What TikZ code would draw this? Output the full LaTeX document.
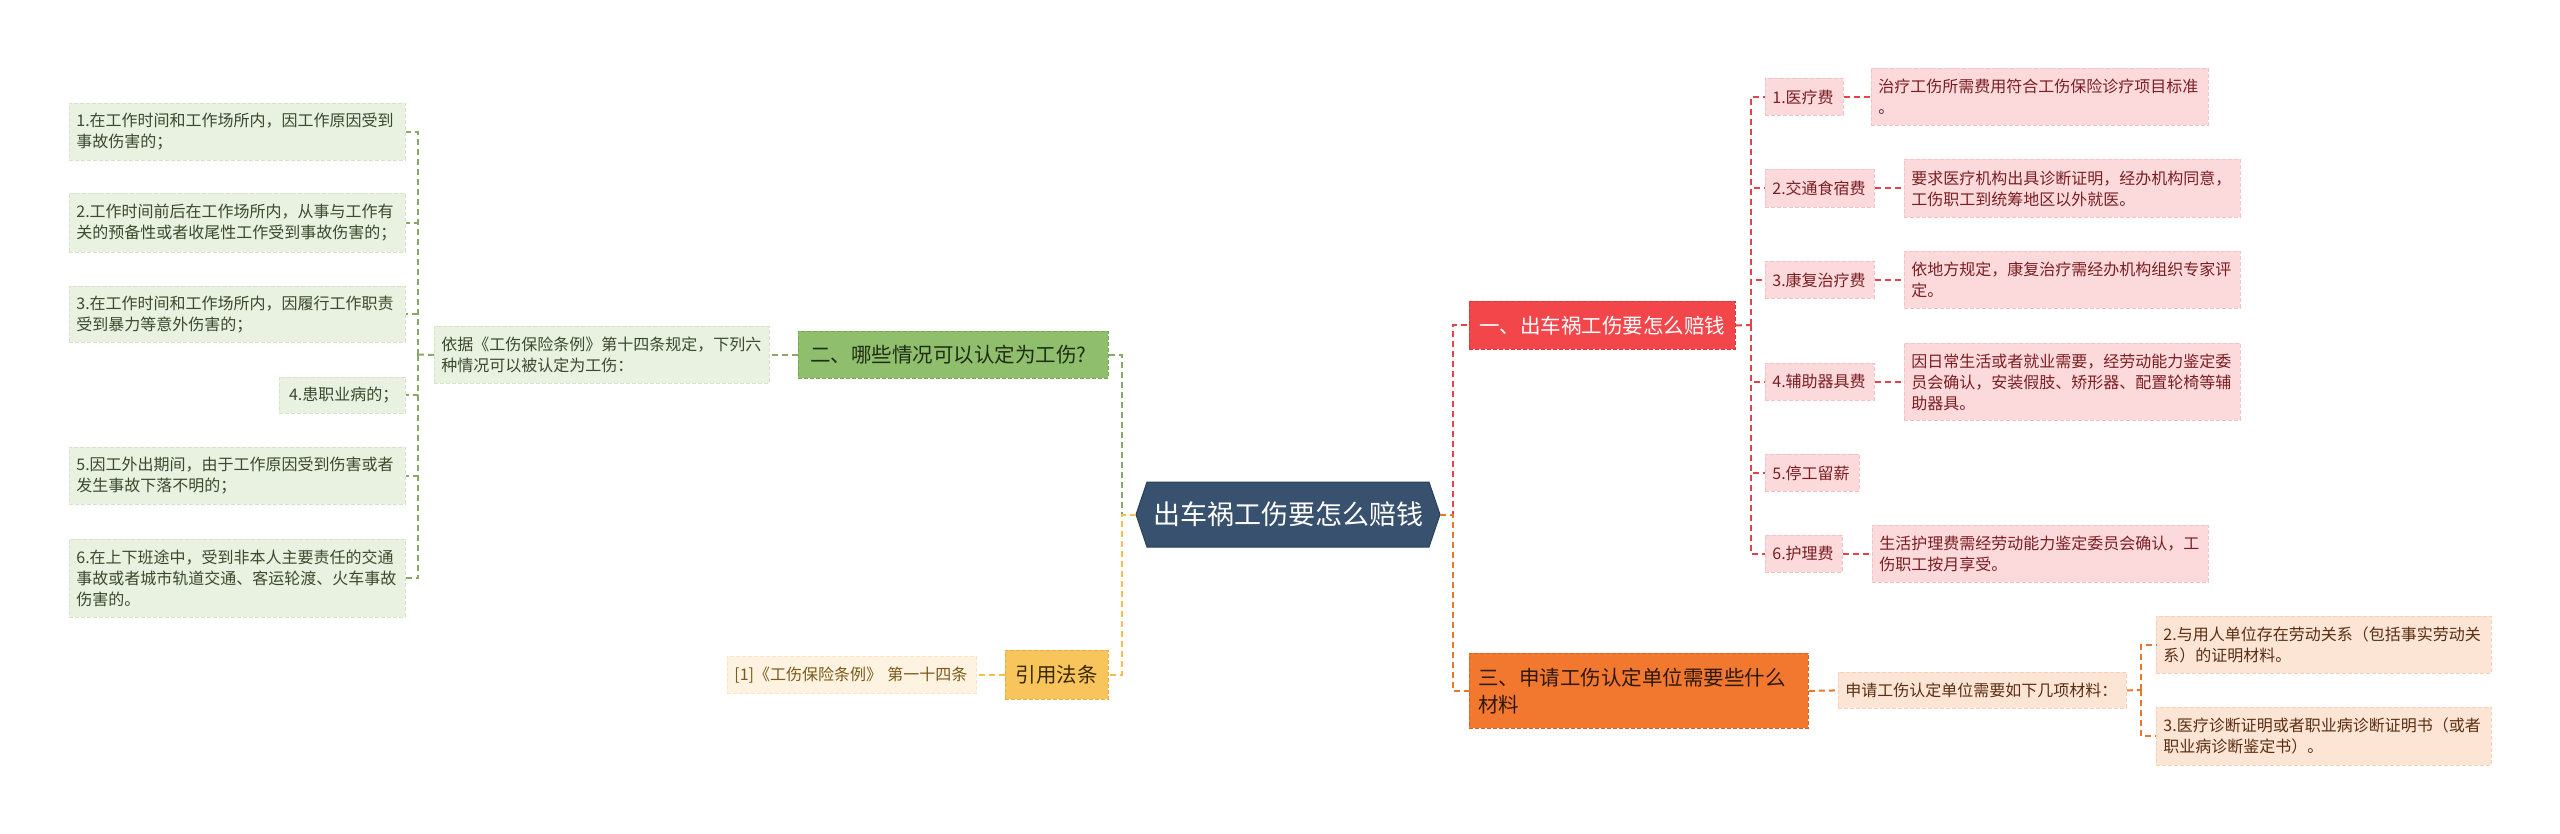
\documentclass[tikz,border=0pt]{standalone}
\usepackage{fontspec}
\setmainfont{Noto Sans CJK SC}
\usetikzlibrary{calc}
\definecolor{cFill}{HTML}{37516F}
\definecolor{cBord}{HTML}{27405A}
\definecolor{rMain}{HTML}{F2464A}
\definecolor{rMainB}{HTML}{DC3438}
\definecolor{rLeaf}{HTML}{FCDADB}
\definecolor{rLeafB}{HTML}{F4C2C4}
\definecolor{rTxt}{HTML}{7B1E22}
\definecolor{rLine}{HTML}{E0454A}
\definecolor{gMain}{HTML}{8FBE6D}
\definecolor{gMainB}{HTML}{76A556}
\definecolor{gLeaf}{HTML}{E9F1E1}
\definecolor{gLeafB}{HTML}{D5E3C8}
\definecolor{gTxt}{HTML}{3A4A2C}
\definecolor{gMTxt}{HTML}{1F2D14}
\definecolor{gLine}{HTML}{88AA66}
\definecolor{yMain}{HTML}{F8C45C}
\definecolor{yMainB}{HTML}{E8AE3E}
\definecolor{yLeaf}{HTML}{FEF3E0}
\definecolor{yLeafB}{HTML}{FAE4C2}
\definecolor{yTxt}{HTML}{7A5A1A}
\definecolor{yMTxt}{HTML}{3A2A08}
\definecolor{yLine}{HTML}{F2C050}
\definecolor{oMain}{HTML}{F2772F}
\definecolor{oMainB}{HTML}{DE6020}
\definecolor{oLeaf}{HTML}{FDE5D6}
\definecolor{oLeafB}{HTML}{F7D0BA}
\definecolor{oTxt}{HTML}{5A2E12}
\definecolor{oMTxt}{HTML}{2E1A0C}
\definecolor{oLine}{HTML}{E8782E}
\tikzset{
  bx/.style={rectangle, anchor=north west, inner xsep=7pt, inner ysep=1pt, align=left,
             dash pattern=on 4pt off 2pt, line width=0.8pt},
  small/.style={font=\fontsize{16}{21}\selectfont},
  big/.style={font=\fontsize{20.5}{27}\selectfont},
  leafG/.style={bx, small, fill=gLeaf, draw=gLeafB, text=gTxt},
  leafR/.style={bx, small, fill=rLeaf, draw=rLeafB, text=rTxt},
  leafO/.style={bx, small, fill=oLeaf, draw=oLeafB, text=oTxt},
  leafY/.style={bx, small, fill=yLeaf, draw=yLeafB, text=yTxt},
  mainG/.style={bx, big, fill=gMain, draw=gMainB, text=gMTxt, inner xsep=12pt},
  mainR/.style={bx, big, fill=rMain, draw=rMainB, text=white, inner xsep=10pt},
  mainO/.style={bx, big, fill=oMain, draw=oMainB, text=oMTxt, inner xsep=9pt},
  mainY/.style={bx, big, fill=yMain, draw=yMainB, text=yMTxt, inner xsep=10pt, align=center},
  conn/.style={line width=2pt, dash pattern=on 6pt off 4pt},
  connG/.style={conn, draw=gLine},
  connR/.style={conn, draw=rLine},
  connO/.style={conn, draw=oLine},
  connY/.style={conn, draw=yLine},
}
\begin{document}
\begin{tikzpicture}[x=1pt,y=-1pt]
\useasboundingbox (0,0) rectangle (2560,833);
\fill[white] (0,0) rectangle (2560,833);

% central node
\path[fill=cFill, draw=cBord, line width=1pt] (1136,514.5) -- (1147,482) -- (1429,482) -- (1440,514.5) -- (1429,547) -- (1147,547) -- cycle;
\node[minimum width=304pt, minimum height=65pt, inner sep=0pt, text=white, font=\fontsize{27}{32}\selectfont] (C) at (1288,514.5) {出车祸工伤要怎么赔钱};

% left branch: green
\node[mainG, text width=286pt, minimum height=47pt] (G) at (798,331) {二、哪些情况可以认定为工伤?};
\node[leafG, text width=321pt, minimum height=57pt] (I) at (434,326) {依据《工伤保险条例》第十四条规定，下列六\\种情况可以被认定为工伤：};
\node[leafG, text width=322pt, minimum height=57pt] (L1) at (69,103) {1.在工作时间和工作场所内，因工作原因受到\\事故伤害的；};
\node[leafG, text width=322pt, minimum height=59pt] (L2) at (69,193) {2.工作时间前后在工作场所内，从事与工作有\\关的预备性或者收尾性工作受到事故伤害的；};
\node[leafG, text width=322pt, minimum height=56pt] (L3) at (69,286) {3.在工作时间和工作场所内，因履行工作职责\\受到暴力等意外伤害的；};
\node[leafG, text width=112pt, minimum height=36pt, align=right] (L4) at (279,377) {4.患职业病的；};
\node[leafG, text width=322pt, minimum height=57pt] (L5) at (69,447) {5.因工外出期间，由于工作原因受到伤害或者\\发生事故下落不明的；};
\node[leafG, text width=322pt, minimum height=78pt] (L6) at (69,539) {6.在上下班途中，受到非本人主要责任的交通\\事故或者城市轨道交通、客运轮渡、火车事故\\伤害的。};

% left branch: yellow
\node[mainY, text width=83pt, minimum height=49pt] (Y) at (1005,650) {引用法条};
\node[leafY, text width=235pt, minimum height=37pt] (Cit) at (727,656) {[1]《工伤保险条例》 第一十四条};

% right branch: red
\node[mainR, text width=246pt, minimum height=48pt] (R) at (1469,301) {一、出车祸工伤要怎么赔钱};
\node[leafR, text width=64pt, minimum height=37pt] (i1) at (1765,78) {1.医疗费};
\node[leafR, text width=95pt, minimum height=38pt] (i2) at (1765,169) {2.交通食宿费};
\node[leafR, text width=95pt, minimum height=37pt] (i3) at (1765,261) {3.康复治疗费};
\node[leafR, text width=95pt, minimum height=37pt] (i4) at (1765,363) {4.辅助器具费};
\node[leafR, text width=80pt, minimum height=37pt] (i5) at (1765,454) {5.停工留薪};
\node[leafR, text width=63pt, minimum height=37pt] (i6) at (1765,535) {6.护理费};
\node[leafR, text width=323pt, minimum height=57pt] (d1) at (1871,68) {治疗工伤所需费用符合工伤保险诊疗项目标准\\。};
\node[leafR, text width=322pt, minimum height=58pt] (d2) at (1904,159) {要求医疗机构出具诊断证明，经办机构同意，\\工伤职工到统筹地区以外就医。};
\node[leafR, text width=322pt, minimum height=57pt] (d3) at (1904,251) {依地方规定，康复治疗需经办机构组织专家评\\定。};
\node[leafR, text width=322pt, minimum height=77pt] (d4) at (1904,343) {因日常生活或者就业需要，经劳动能力鉴定委\\员会确认，安装假肢、矫形器、配置轮椅等辅\\助器具。};
\node[leafR, text width=322pt, minimum height=57pt] (d6) at (1872,525) {生活护理费需经劳动能力鉴定委员会确认，工\\伤职工按月享受。};

% right branch: orange
\node[mainO, text width=321pt, minimum height=75pt] (O) at (1469,653) {三、申请工伤认定单位需要些什么\\材料};
\node[leafO, text width=274pt, minimum height=36pt] (om) at (1838,672) {申请工伤认定单位需要如下几项材料：};
\node[leafO, text width=321pt, minimum height=57pt] (o1) at (2156,616) {2.与用人单位存在劳动关系（包括事实劳动关\\系）的证明材料。};
\node[leafO, text width=321pt, minimum height=58pt] (o2) at (2156,707) {3.医疗诊断证明或者职业病诊断证明书（或者\\职业病诊断鉴定书）。};

% junction coordinates
\coordinate (jL) at (1122,514.5);
\coordinate (jR) at (1453,514.5);
\coordinate (jG) at (418,354.5);
\coordinate (jRed) at (1751,325);
\coordinate (jO) at (2141,690);

% connectors
\draw[connG] (C.west) -- (jL) |- (G.east);
\draw[connY] (C.west) -- (jL) |- (Y.east);
\draw[connG] (G.west) -- (I.east);
\draw[connG] (I.west) -- (jG);
\foreach \n in {L1,L2,L3,L4,L5,L6} \draw[connG] (jG) |- (\n.east);
\draw[connY] (Y.west) -- (Cit.east);

\draw[connR] (C.east) -- (jR) |- (R.west);
\draw[connO] (C.east) -- (jR) |- (O.west);
\draw[connR] (R.east) -- (jRed);
\foreach \n in {i1,i2,i3,i4,i5,i6} \draw[connR] (jRed) |- (\n.west);
\draw[connR] (i1.east) -- (d1.west);
\draw[connR] (i2.east) -- (d2.west);
\draw[connR] (i3.east) -- (d3.west);
\draw[connR] (i4.east) -- (d4.west);
\draw[connR] (i6.east) -- (d6.west);
\draw[connO] (O.east) -- (om.west);
\draw[connO] (om.east) -- (jO);
\draw[connO] (jO) |- (o1.west);
\draw[connO] (jO) |- (o2.west);
\end{tikzpicture}
\end{document}
